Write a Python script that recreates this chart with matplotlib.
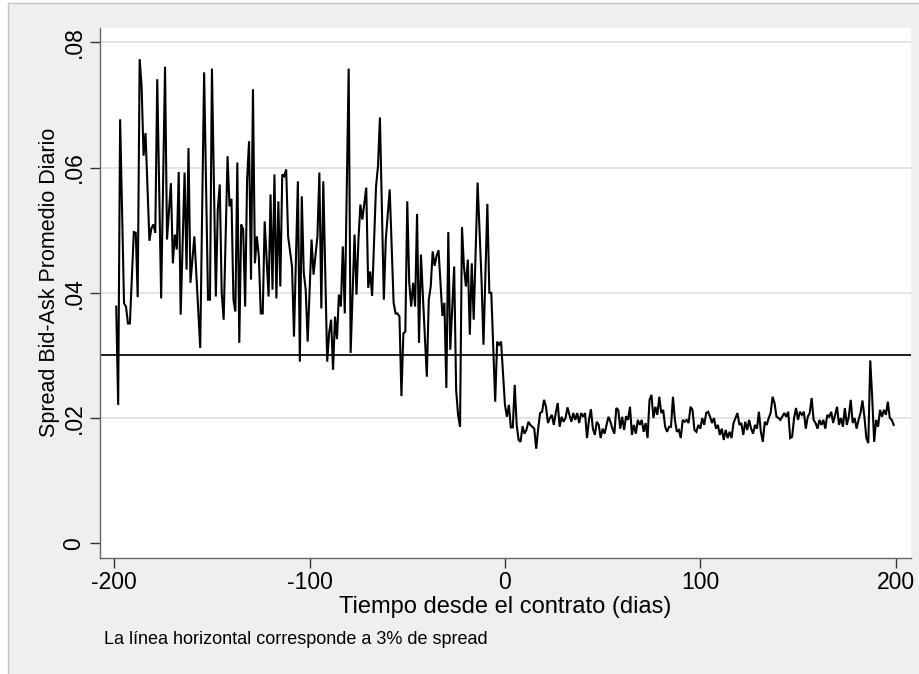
import matplotlib
matplotlib.use("Agg")
import matplotlib.pyplot as plt
from matplotlib.patches import Rectangle

plt.rcParams['font.family'] = ['Liberation Sans', 'DejaVu Sans']

# ---- data ----
days_pre = [-199, -198, -197, -195, -194, -193, -192, -190, -189, -188,
            -187, -186, -185, -184, -182, -181, -180, -179, -178, -176,
            -174, -173, -171, -170, -169, -168, -167, -166, -164, -163,
            -162, -161, -159, -156, -154, -152, -151, -150, -148, -147,
            -146, -145, -144, -142, -141, -140, -139, -138, -137, -136,
            -135, -134, -133, -132, -131, -130, -129, -128, -127, -126,
            -125, -124, -123, -122, -121, -120, -119, -118, -117, -116,
            -115, -114, -113, -112, -111, -109, -108, -106, -105, -104,
            -103, -102, -101, -99, -98, -96, -95, -94, -93, -92,
            -91, -90, -89, -88, -87, -86, -85, -84, -83, -82,
            -80, -79, -77, -76, -75, -74, -73, -71, -70, -69,
            -68, -66, -65, -64, -62, -61, -59, -57, -56, -55,
            -54, -53, -52, -51, -50, -49, -48, -47, -46, -45,
            -44, -43, -42, -40, -39, -38, -37, -36, -35, -34,
            -32, -31, -30, -29, -28, -26, -25, -24, -23, -22,
            -21, -20, -19, -18, -17, -16, -14, -12, -11, -9,
            -8, -7, -5, -4, -3, -2]
spread_pre = [.0378, .0221, .0677, .0383, .0378, .0351, .0351, .0497, .0496, .0393,
              .0773, .0730, .0619, .0655, .0483, .0503, .0509, .0496, .0741, .0391,
              .0761, .0485, .0575, .0447, .0493, .0469, .0593, .0365, .0592, .0437,
              .0631, .0416, .0490, .0312, .0752, .0389, .0389, .0758, .0394, .0533,
              .0573, .0400, .0357, .0618, .0538, .0550, .0389, .0370, .0608, .0320,
              .0509, .0501, .0378, .0581, .0642, .0421, .0725, .0447, .0490, .0458,
              .0367, .0367, .0514, .0453, .0394, .0557, .0405, .0589, .0391, .0546,
              .0410, .0589, .0586, .0597, .0490, .0442, .0330, .0578, .0290, .0554,
              .0432, .0405, .0322, .0485, .0429, .0490, .0592, .0375, .0578, .0432,
              .0290, .0336, .0357, .0277, .0362, .0326, .0397, .0378, .0474, .0367,
              .0758, .0304, .0493, .0397, .0485, .0541, .0517, .0568, .0408, .0434,
              .0395, .0570, .0602, .0680, .0389, .0485, .0565, .0384, .0367, .0367,
              .0362, .0235, .0335, .0338, .0546, .0416, .0378, .0416, .0378, .0526,
              .0320, .0461, .0394, .0266, .0389, .0410, .0466, .0443, .0459, .0468,
              .0363, .0384, .0248, .0497, .0309, .0442, .0245, .0205, .0186, .0505,
              .0442, .0410, .0453, .0333, .0447, .0357, .0576, .0421, .0317, .0542,
              .0400, .0400, .0226, .0322, .0317, .0322]

days_post_a = list(range(0, 100))
spread_post_a = [.0221, .0202, .0221, .0185, .0185, .0253,
                 .0189, .0165, .0162, .0187, .0175, .0181, .0194, .0189, .0186, .0183,
                 .0151, .0183, .0208, .0210, .0229, .0218, .0192, .0200, .0205, .0189,
                 .0208, .0224, .0186, .0202, .0194, .0200, .0217, .0205, .0194, .0208,
                 .0197, .0208, .0192, .0208, .0202, .0208, .0168, .0197, .0214, .0183,
                 .0173, .0194, .0189, .0168, .0183, .0175, .0189, .0202, .0194, .0183,
                 .0175, .0216, .0213, .0183, .0202, .0181, .0203, .0197, .0218, .0173,
                 .0189, .0175, .0197, .0189, .0197, .0178, .0192, .0168, .0229, .0237,
                 .0200, .0218, .0205, .0234, .0208, .0213, .0186, .0178, .0186, .0186,
                 .0234, .0197, .0178, .0181, .0168, .0197, .0194, .0197, .0192, .0218,
                 .0213, .0181, .0178, .0189]

days_post_b = [100, 101, 102, 103, 104, 105, 106, 107, 108, 109,
               110, 111, 112, 113, 114, 115, 116, 117, 119, 120,
               121, 122, 123, 124, 125, 126, 127, 128, 129, 130,
               131, 132, 133, 134, 135, 136, 137, 138, 139, 140,
               141, 143, 144, 145, 146, 147, 148, 149, 150, 151,
               152, 153, 154, 155, 156, 157, 158, 159, 160, 161,
               162, 163, 164, 165, 166, 167, 168, 169, 170, 171,
               172, 173, 174, 175, 176, 177, 178, 179, 180, 181,
               182, 183, 184, 185, 186, 187, 188, 189, 190, 191,
               192, 193, 194, 195, 196, 197, 198, 199]
spread_post_b = [.0183, .0200, .0189, .0208, .0210, .0202, .0192, .0200, .0183, .0189,
                 .0173, .0183, .0165, .0181, .0168, .0178, .0168, .0192, .0208, .0189,
                 .0192, .0173, .0194, .0181, .0197, .0183, .0175, .0189, .0183, .0210,
                 .0178, .0162, .0194, .0189, .0200, .0208, .0234, .0224, .0202, .0200,
                 .0197, .0208, .0202, .0210, .0168, .0170, .0200, .0216, .0197, .0210,
                 .0205, .0210, .0183, .0202, .0208, .0232, .0197, .0192, .0183, .0197,
                 .0189, .0197, .0183, .0205, .0202, .0210, .0192, .0205, .0218, .0189,
                 .0200, .0186, .0216, .0189, .0202, .0229, .0192, .0200, .0183, .0197,
                 .0208, .0228, .0202, .0168, .0160, .0292, .0232, .0162, .0197, .0186,
                 .0213, .0202, .0213, .0205, .0226, .0200, .0197, .0189]

days = days_pre + days_post_a + days_post_b
spread = spread_pre + spread_post_a + spread_post_b

ref_level = 0.03
x_ticks = [-200, -100, 0, 100, 200]
x_tick_labels = ['-200', '-100', '0', '100', '200']
y_ticks = [0, 0.02, 0.04, 0.06, 0.08]
y_tick_labels = ['0', '.02', '.04', '.06', '.08']
x_title = 'Tiempo desde el contrato (dias)'
y_title = 'Spread Bid-Ask Promedio Diario'
note = 'La línea horizontal corresponde a 3% de spread'

# ---- figure ----
W, H = 920, 674
fig = plt.figure(figsize=(W / 100, H / 100), dpi=100, facecolor='white')
panel = Rectangle((8 / W, -0.05), 1.2, 1.05 - 3 / H, transform=fig.transFigure,
                  facecolor='#efefef', edgecolor='#c4c4c4', linewidth=1.0, zorder=-10)
fig.add_artist(panel)

ax = fig.add_axes([100 / W, 1 - 558.3 / H, 810.7 / W, 530.6 / H])
ax.set_zorder(1)
ax.set_facecolor('white')
ax.plot(days, spread, color='black', lw=1.5, solid_joinstyle='miter', zorder=3)
ax.axhline(ref_level, color='#1e1e1e', lw=1.4, zorder=2)

ax.set_xlim(-207.3, 207.7)
ax.set_ylim(-0.0024, 0.08233)
ax.set_xticks(x_ticks)
ax.set_xticklabels(x_tick_labels)
ax.set_yticks(y_ticks)
ax.set_yticklabels(y_tick_labels, rotation=90, va='center')

ax.grid(axis='y', color='#e4e4e4', lw=1.4, zorder=1)
ax.yaxis.get_gridlines()[0].set_visible(False)
ax.set_axisbelow(True)

for s in ['top', 'right']:
    ax.spines[s].set_visible(False)
for s in ['left', 'bottom']:
    ax.spines[s].set_color('#666666')
    ax.spines[s].set_linewidth(1.0)

ax.tick_params(axis='both', length=7, width=1.0, color='#333333', labelsize=16.5,
               labelcolor='black')
ax.tick_params(axis='x', pad=2)
ax.tick_params(axis='y', pad=3.5)

fig.text(505 / W, 1 - 607 / H, x_title, ha='center', va='center', fontsize=17)
fig.text(50 / W, 1 - 282 / H, y_title, ha='center', va='center', rotation=90,
         fontsize=15.5)
fig.text(104 / W, 1 - 640 / H, note, ha='left', va='center', fontsize=13)

fig.savefig('out.png', dpi=100, facecolor=fig.get_facecolor())
